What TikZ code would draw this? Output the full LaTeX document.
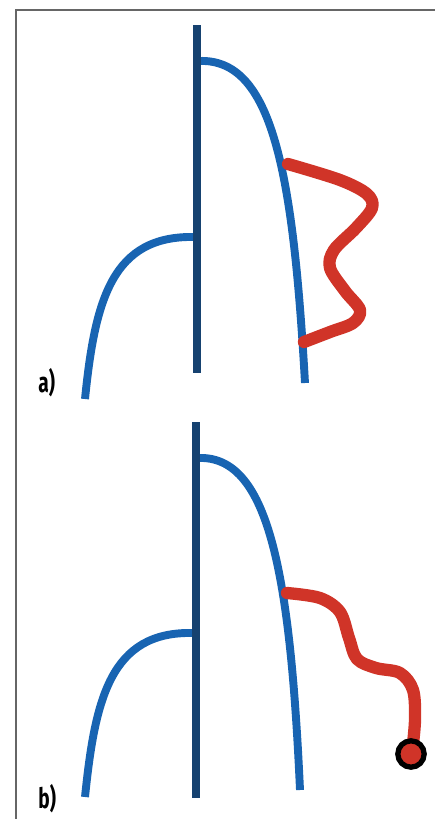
\documentclass[tikz,border=0pt]{standalone}
\usepackage{fontspec}
\newfontfamily\labelfont[FakeStretch=0.68]{Fira Sans}
\definecolor{stem}{RGB}{22,66,112}
\definecolor{branch}{RGB}{24,100,178}
\definecolor{lipid}{RGB}{208,52,40}

\begin{document}
\begin{tikzpicture}
[x=0.02cm,y=-0.02cm,
stemline/.style={draw=stem,line width=5pt},
branchline/.style={draw=branch,line width=4.5pt},
tailline/.style={draw=lipid,line width=7pt,line cap=round,line join=round},
panellabel/.style={font=\labelfont\bfseries\fontsize{16}{16}\selectfont,inner sep=0pt}]

\useasboundingbox (0,0) rectangle (435,819);
\draw[gray!80!black,line width=1.2pt] (16,819) -- (16,10) -- (435,10);

% a)
\coordinate (atop) at (197,25);
\coordinate (abot) at (197,373);
\coordinate (ajoin) at (199,61);
\coordinate (aend) at (305,383);
\coordinate (lj) at (195,237);
\coordinate (lend) at (85,399);
\draw[branchline] (ajoin) .. controls (272,58) and (293,170) .. (aend);
\draw[branchline] (lj) .. controls (112,235) and (95,300) .. (lend);
\draw[stemline] (atop) -- (abot);
\draw[tailline] plot[smooth,tension=0.55] coordinates
{(288,164) (340,180) (367,194) (372,208) (356,228) (334,250) (330,268) (345,291) (360,310) (353,323) (330,332) (304,342)};
\node[panellabel,anchor=base west] (la) at (38,392) {a)};

% b)
\coordinate (btop) at (196,422);
\coordinate (bbot) at (196,798);
\coordinate (bjoin) at (198,458);
\coordinate (bend) at (300,790);
\coordinate (blj) at (193,633);
\coordinate (blend) at (85,797);
\draw[branchline] (bjoin) .. controls (268,455) and (290,570) .. (bend);
\draw[branchline] (blj) .. controls (110,631) and (95,700) .. (blend);
\draw[stemline] (btop) -- (bbot);
\draw[tailline] plot[smooth,tension=0.55] coordinates
{(287,593) (320,598) (340,612) (349,638) (357,659) (376,668) (400,673) (413,690) (415,720) (412,752)};
\node[circle,draw=black,fill=lipid,line width=3pt,minimum size=15pt,inner sep=0pt] (cap) at (411,754) {};
\node[panellabel,anchor=base west] (lb) at (38,808) {b)};
\end{tikzpicture}
\end{document}
